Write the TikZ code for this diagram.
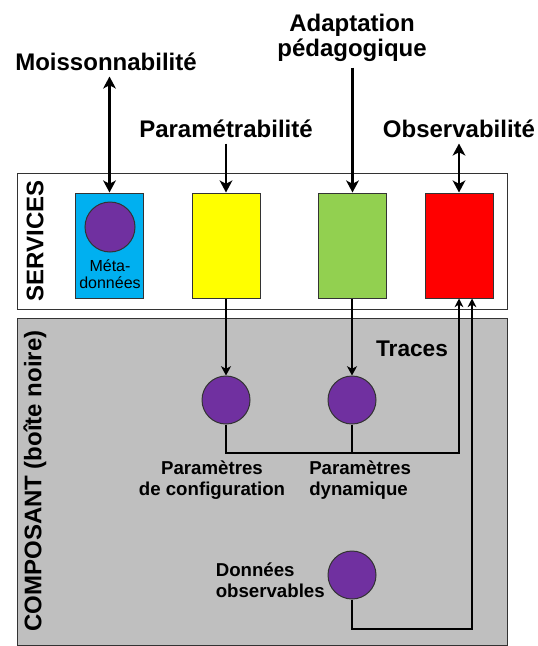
\documentclass[tikz,border=0pt]{standalone}
\usepackage{fontspec}
\setmainfont{Liberation Sans}
\usetikzlibrary{arrows.meta}
\definecolor{svcblue}{HTML}{00B0F0}
\definecolor{svcyellow}{HTML}{FFFF00}
\definecolor{svcgreen}{HTML}{92D050}
\definecolor{svcred}{HTML}{FF0000}
\definecolor{datapurple}{HTML}{7030A0}
\definecolor{boxgrey}{HTML}{BFBFBF}
\begin{document}
\begin{tikzpicture}[x=0.75pt, y=-0.75pt,
    prop/.style={font=\fontsize{18}{19}\selectfont\bfseries, align=center, inner sep=4pt},
    svc/.style={draw=black!80, line width=0.75pt, minimum width=51pt, minimum height=78.75pt, inner sep=0pt},
    datum/.style={circle, draw=black!80, fill=datapurple, line width=0.75pt, minimum size=36pt, inner sep=0pt},
    note/.style={font=\fontsize{14}{15.75}\selectfont\bfseries, inner sep=0pt},
    side/.style={rotate=90, font=\fontsize{18}{20}\selectfont\bfseries, inner sep=0pt},
    link/.style={line width=1.6pt},
    arr/.style={link, -{Stealth[length=9pt, width=9.5pt, inset=2.5pt]}},
    dbl/.style={link, {Stealth[length=9pt, width=9.5pt, inset=2.5pt]}-{Stealth[length=9pt, width=9.5pt, inset=2.5pt]}},
    down/.style={link, -{Stealth[length=7pt, width=7.5pt, inset=2pt]}},
    up/.style={link, -{Stealth[length=6.5pt, width=6.5pt, inset=2pt]}}]
  \useasboundingbox (0,0) rectangle (538,646);
  \draw[black!80, line width=0.75pt, fill=white] (17,173) rectangle (507,309);
  \draw[black!80, line width=0.75pt, fill=boxgrey] (17,318) rectangle (507,645);
  \node[side] (services) at (35,241) {SERVICES};
  \node[side] (composant) at (35,481) {COMPOSANT (boîte noire)};

  \node[prop] (moiss) at (106,62) {Moissonnabilité};
  \node[prop] (param) at (226,129) {Paramétrabilité};
  \node[prop] (adapt) at (352,38) {Adaptation\\pédagogique};
  \node[prop] (observ) at (459,129) {Observabilité};

  \node[svc, fill=svcblue] (meta) at (109.5,245.5) {};
  \node[svc, fill=svcyellow] (config) at (226,245.5) {};
  \node[svc, fill=svcgreen] (adaptbox) at (352.5,245.5) {};
  \node[svc, fill=svcred] (obsbox) at (459,245.5) {};
  \node[datum, minimum size=37.5pt] (metadot) at (110,227) {};
  \node[font=\fontsize{12}{12.75}\selectfont, align=center, inner sep=0pt] (metatxt) at (110,274) {Méta-\\données};

  \draw[dbl] (meta.north |- moiss.south) -- (meta.north);
  \draw[arr] (param.south) -- (config.north);
  \draw[arr] (adaptbox.north |- adapt.south) -- (adaptbox.north);
  \draw[dbl] (observ.south) -- (obsbox.north);

  \node[datum] (cfgdot) at (226,400) {};
  \node[datum] (dyndot) at (352,400) {};
  \node[datum] (obsdot) at (352,575) {};
  \node[font=\fontsize{17}{19}\selectfont\bfseries] (traces) at (412,349) {Traces};
  \node[note, align=center] (cfgtxt) at (212,480) {Paramètres\\de configuration};
  \node[note, align=left, anchor=west] (dyntxt) at (309,480) {Paramètres\\dynamique};
  \node[note, align=left, anchor=east] (obstxt) at (325,580) {Données\\observables};

  \draw[down] (config.south) -- (cfgdot.north);
  \draw[down] (dyndot.north |- adaptbox.south) -- (dyndot.north);
  \coordinate (trace) at (459,453);
  \draw[up] (cfgdot.south) |- (trace) -- (obsbox.south);
  \draw[link] (dyndot.south) -- (dyndot.south |- trace);
  \coordinate (obscorner) at (472,629);
  \draw[up] (obsdot.south) |- (obscorner) -- (obscorner |- obsbox.south);
\end{tikzpicture}
\end{document}
